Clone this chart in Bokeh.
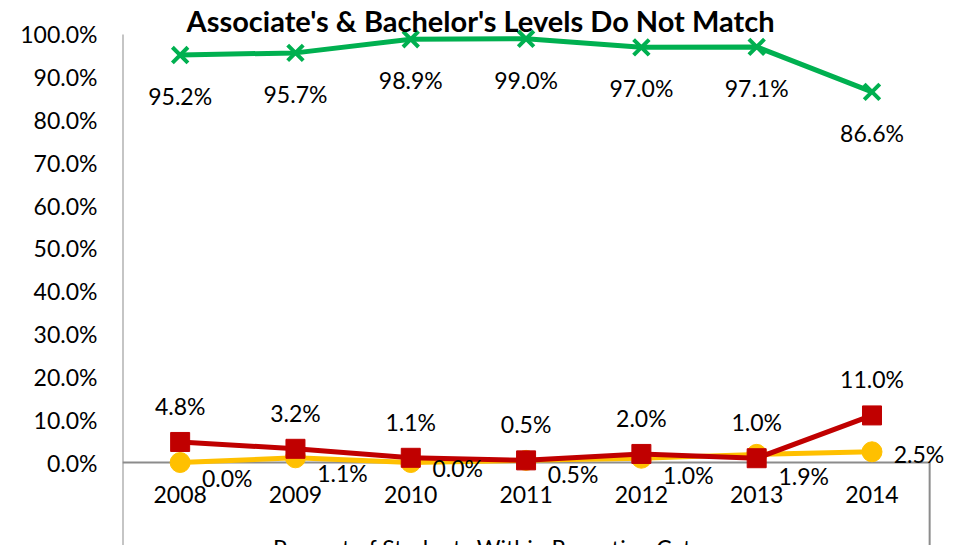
from bokeh.plotting import figure
from bokeh.models import ColumnDataSource, FixedTicker, PrintfTickFormatter, Label, Range1d
from bokeh.core.properties import value
from bokeh.embed import file_html
from bokeh.resources import INLINE

years = ["2008", "2009", "2010", "2011", "2012", "2013", "2014"]
green_vals = [95.2, 95.7, 98.9, 99.0, 97.0, 97.1, 86.6]
red_vals = [4.8, 3.2, 1.1, 0.5, 2.0, 1.0, 11.0]
yellow_vals = [0.0, 1.1, 0.0, 0.5, 1.0, 1.9, 2.5]
y_ticks = [0, 10, 20, 30, 40, 50, 60, 70, 80, 90, 100]
title_text = "Associate's & Bachelor's Levels Do Not Match"
axis_title = "Percent of Students Within Reporting Category"

# label nudges (pixels) for the yellow series, as placed in the original
yellow_dy = [15, 15, 5, 14, 17, 22, 2]

FONT = "Lato"
GREEN = "#00B050"
RED = "#C00000"
YELLOW = "#FFC000"
GRAY = "#8C8C8C"
FS = "23px"

xs = [i + 0.5 for i in range(len(years))]
n = len(years)

def pct(v):
    return ["%.1f%%" % a for a in v]

src = ColumnDataSource(dict(
    x=xs, year=years,
    g=green_vals, r=red_vals, yv=yellow_vals,
    gl=pct(green_vals), rl=pct(red_vals), yl=pct(yellow_vals),
    ydy=yellow_dy,
))

YMIN, YMAX = -19.39, 107.94
p = figure(width=971, height=545, output_backend="svg", toolbar_location=None,
           x_range=Range1d(0, 7.363), y_range=Range1d(YMIN, YMAX),
           min_border_left=122, min_border_right=0, min_border_top=0, min_border_bottom=0)
p.outline_line_color = None
p.xgrid.visible = False
p.ygrid.visible = False
p.xaxis.visible = False
p.background_fill_color = "white"
p.border_fill_color = "white"

ya = p.yaxis[0]
ya.ticker = FixedTicker(ticks=y_ticks)
ya.formatter = PrintfTickFormatter(format="%.1f%%")
ya.axis_line_color = None
ya.major_tick_line_color = None
ya.minor_tick_line_color = None
ya.major_tick_out = 0
ya.major_tick_in = 0
ya.major_label_standoff = 25
ya.major_label_text_font = FONT
ya.major_label_text_font_size = FS
ya.major_label_text_color = "black"

# axis lines
p.segment(x0=[0], y0=[YMIN], x1=[0], y1=[100], line_color=GRAY, line_width=2)
p.segment(x0=[0], y0=[0], x1=[n], y1=[0], line_color=GRAY, line_width=2)
p.segment(x0=[n], y0=[0], x1=[n], y1=[YMIN], line_color=GRAY, line_width=2)

# series
p.line("x", "g", source=src, line_color=GREEN, line_width=5)
p.scatter("x", "g", source=src, marker="x", size=22, line_color=GREEN, line_width=4)
p.line("x", "yv", source=src, line_color=YELLOW, line_width=5)
p.scatter("x", "yv", source=src, marker="circle", size=20, fill_color=YELLOW, line_color=YELLOW)
p.line("x", "r", source=src, line_color=RED, line_width=5)
p.scatter("x", "r", source=src, marker="square", size=19, fill_color=RED, line_color=RED)

tf = value(FONT)
p.text("x", "g", text="gl", source=src, y_offset=41, text_align="center", text_baseline="middle",
       text_font=tf, text_font_size=FS, text_color="black")
p.text("x", "r", text="rl", source=src, y_offset=-36, text_align="center", text_baseline="middle",
       text_font=tf, text_font_size=FS, text_color="black")
p.text("x", "yv", text="yl", source=src, x_offset=47, y_offset="ydy", text_align="center",
       text_baseline="middle", text_font=tf, text_font_size=FS, text_color="black")
p.text("x", value(0), text="year", source=src, y_offset=32, text_align="center", text_baseline="middle",
       text_font=tf, text_font_size=FS, text_color="black")

p.text(x=[3.37], y=[-16.6], text=[axis_title], text_align="center", text_baseline="top",
       text_font=tf, text_font_size=FS, text_color="black")

p.add_layout(Label(x=3.105, y=103.3, text=title_text, text_align="center", text_baseline="middle",
                   text_font=FONT, text_font_style="bold", text_font_size="29px", text_color="black"))

open("out.html", "w").write(file_html(p, INLINE))
